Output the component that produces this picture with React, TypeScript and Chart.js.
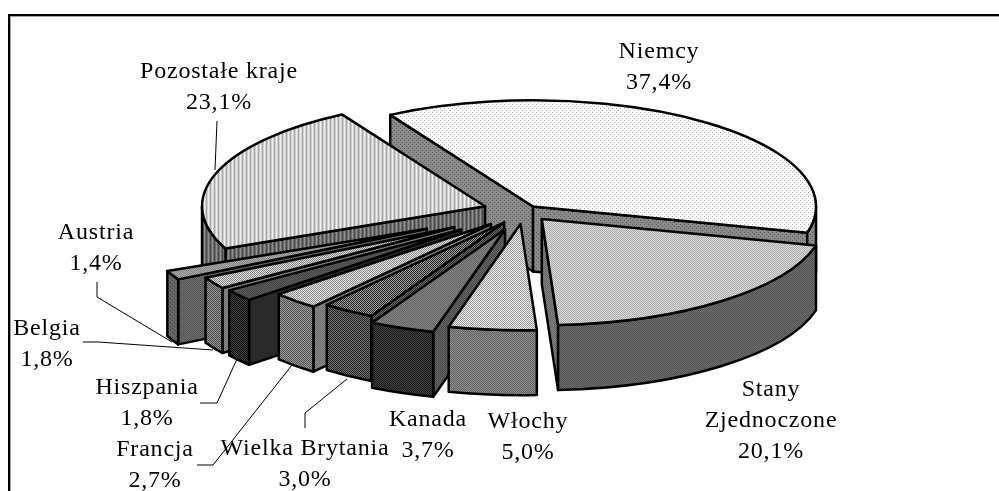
import React, { useEffect, useRef } from "react";
import { Chart, registerables } from "chart.js";

Chart.register(...registerables);

const categories = ["Niemcy", "Stany Zjednoczone", "Włochy", "Kanada", "Wielka Brytania", "Francja", "Hiszpania", "Belgia", "Austria", "Pozostałe kraje"];
const shares = [37.4, 20.1, 5.0, 3.7, 3.0, 2.7, 1.8, 1.8, 1.4, 23.1];
const explode = [15, 28, 35, 52, 36, 48, 80, 82, 108, 41];

type Pat = [string, string, string];
const topFaces: Pat[] = [
  ["dots", "#ffffff", "#b4b4b4"], ["check", "#dadada", "#acacac"], ["check", "#eeeeee", "#999999"],
  ["check", "#848484", "#646464"], ["check", "#a0a0a0", "#222222"], ["check", "#e4e4e4", "#8c8c8c"],
  ["check", "#5c5c5c", "#444444"], ["check", "#e0e0e0", "#808080"], ["check", "#aaaaaa", "#848484"],
  ["stripesLight", "#f0f0f0", "#a8a8a8"],
];
const outerWalls: Pat[] = [
  ["dots", "#8a8a8a", "#5c5c5c"], ["check", "#6c6c6c", "#545454"], ["check", "#8c8c8c", "#646464"],
  ["check", "#404040", "#1c1c1c"], ["check", "#6c6c6c", "#282828"], ["check", "#969696", "#585858"],
  ["check", "#444444", "#0c0c0c"], ["check", "#969696", "#4c4c4c"], ["dots", "#666666", "#444444"],
  ["stripesDark", "#909090", "#484848"],
];
const cutWalls: Pat[] = [
  ["dots", "#8a8a8a", "#5c5c5c"], ["check", "#808080", "#686868"], ["check", "#8c8c8c", "#646464"],
  ["check", "#666666", "#484848"], ["check", "#6c6c6c", "#282828"], ["check", "#888888", "#707070"],
  ["check", "#303030", "#242424"], ["check", "#888888", "#707070"], ["check", "#6a6a6a", "#585858"],
  ["stripesDark", "#909090", "#484848"],
];

const labelLines: string[][] = [
  ["Niemcy", "37,4%"], ["Stany", "Zjednoczone", "20,1%"], ["Włochy", "5,0%"], ["Kanada", "3,7%"],
  ["Wielka Brytania", "3,0%"], ["Francja", "2,7%"], ["Hiszpania", "1,8%"], ["Belgia", "1,8%"],
  ["Austria", "1,4%"], ["Pozostałe kraje", "23,1%"],
];
const labelAnchors = [
  [659, 52], [771, 390], [528, 422], [428, 420], [305, 449], [155, 450], [147, 388], [47, 329], [96, 233], [219, 72],
];
const leaders: number[][][] = [
  [], [], [], [],
  [[305, 428], [305, 413], [347, 379]],
  [[197, 465], [213, 465], [292, 365]],
  [[200, 403], [217, 403], [237, 359]],
  [[83, 342], [98, 342], [213, 350]],
  [[97, 282], [97, 297], [172, 342]],
  [[217, 121], [215, 170]],
];

const TILT = 0.375;
const DEPTH = 65;
const LINE_HEIGHT = 31;

function makePattern(ctx: CanvasRenderingContext2D, [kind, a, b]: Pat) {
  const c = document.createElement("canvas");
  const p = c.getContext("2d")!;
  if (kind === "dots") {
    c.width = 4; c.height = 4;
    p.fillStyle = a; p.fillRect(0, 0, 4, 4);
    p.fillStyle = b; p.fillRect(0, 0, 1, 1); p.fillRect(2, 2, 1, 1);
  } else if (kind === "check") {
    c.width = 2; c.height = 2;
    p.fillStyle = a; p.fillRect(0, 0, 2, 2);
    p.fillStyle = b; p.fillRect(0, 0, 1, 1); p.fillRect(1, 1, 1, 1);
  } else {
    c.width = 4; c.height = 1;
    const mid = kind === "stripesLight" ? "#d0d0d0" : "#6c6c6c";
    [a, mid, b, mid].forEach((col, i) => { p.fillStyle = col; p.fillRect(i, 0, 1, 1); });
  }
  return ctx.createPattern(c, "repeat")!;
}

const pie3d = {
  id: "pie3d",
  beforeDraw(chart: any) {
    const ctx = chart.ctx as CanvasRenderingContext2D;
    ctx.save();
    ctx.fillStyle = "#a0a0a0";
    ctx.fillRect(8, 16, 991, 1);
    ctx.fillRect(10, 14, 1, 477);
    ctx.fillStyle = "#000000";
    ctx.fillRect(8, 14, 991, 2);
    ctx.fillRect(8, 14, 2, 477);
    ctx.restore();
  },
  beforeDatasetsDraw(chart: any) {
    const ctx = chart.ctx as CanvasRenderingContext2D;
    const arcs = chart.getDatasetMeta(0).data as any[];
    const order = arcs
      .map((arc, i) => ({ i, s: Math.sin((arc.startAngle + arc.endAngle) / 2) }))
      .sort((p, q) => p.s - q.s);
    ctx.save();
    ctx.lineWidth = 2.5;
    ctx.lineJoin = "round";
    ctx.strokeStyle = "#000000";
    const paint = (fill: CanvasPattern | string | null) => {
      if (fill) { ctx.fillStyle = fill; ctx.fill(); }
      ctx.stroke();
    };
    order.forEach(({ i }) => {
      const arc = arcs[i];
      const a = arc.startAngle, b = arc.endAngle, r = arc.outerRadius, m = (a + b) / 2;
      const off = arc.options.offset;
      const cx = arc.x + Math.cos(m) * off;
      const cy = arc.y + Math.sin(m) * off * TILT;
      const ry = r * TILT;
      const px = (t: number) => cx + Math.cos(t) * r;
      const py = (t: number) => cy + Math.sin(t) * ry;
      const cut = (t: number) => {
        ctx.beginPath();
        ctx.moveTo(cx, cy);
        ctx.lineTo(px(t), py(t));
        ctx.lineTo(px(t), py(t) + DEPTH);
        ctx.lineTo(cx, cy + DEPTH);
        ctx.closePath();
        paint(makePattern(ctx, cutWalls[i]));
      };
      if (Math.cos(a) < 0) cut(a);
      if (Math.cos(b) > 0) cut(b);
      // outer wall: only the part facing the viewer
      for (const k of [0, 2]) {
        const lo = Math.max(a, k * Math.PI);
        const hi = Math.min(b, (k + 1) * Math.PI);
        if (hi <= lo) continue;
        ctx.beginPath();
        ctx.ellipse(cx, cy, r, ry, 0, lo, hi);
        ctx.lineTo(px(hi), py(hi) + DEPTH);
        ctx.ellipse(cx, cy + DEPTH, r, ry, 0, hi, lo, true);
        ctx.closePath();
        paint(makePattern(ctx, outerWalls[i]));
      }
      ctx.beginPath();
      ctx.moveTo(cx, cy);
      ctx.ellipse(cx, cy, r, ry, 0, a, b);
      ctx.closePath();
      paint(arc.options.backgroundColor);
    });
    ctx.restore();
    return false;
  },
  afterDraw(chart: any) {
    const ctx = chart.ctx as CanvasRenderingContext2D;
    ctx.save();
    ctx.strokeStyle = "#000000";
    ctx.lineWidth = 1;
    leaders.forEach((pts) => {
      if (!pts.length) return;
      ctx.beginPath();
      pts.forEach(([x, y], j) => (j ? ctx.lineTo(x, y) : ctx.moveTo(x, y)));
      ctx.stroke();
    });
    ctx.fillStyle = "#000000";
    ctx.font = '24px "Liberation Serif"';
    (ctx as any).letterSpacing = "0.8px";
    ctx.textAlign = "center";
    ctx.textBaseline = "middle";
    labelLines.forEach((lines, i) => {
      lines.forEach((t, j) => ctx.fillText(t, labelAnchors[i][0], labelAnchors[i][1] + j * LINE_HEIGHT));
    });
    ctx.restore();
  },
};

export default function App() {
  const ref = useRef<HTMLCanvasElement>(null);
  useEffect(() => {
    const canvas = ref.current!;
    const ctx = canvas.getContext("2d")!;
    const chart = new Chart(canvas, {
      type: "pie",
      data: {
        labels: categories,
        datasets: [{
          data: shares,
          offset: explode,
          borderWidth: 0,
          backgroundColor: topFaces.map((p) => makePattern(ctx, p)),
        }],
      },
      options: {
        animation: false,
        responsive: false,
        rotation: -30.3,
        radius: 283,
        layout: { padding: { left: 49, right: 0, top: 0, bottom: 69 } },
        plugins: { legend: { display: false }, tooltip: { enabled: false } },
      },
      plugins: [pie3d],
    } as any);
    return () => chart.destroy();
  }, []);
  return (
    <canvas
      ref={ref}
      width={999}
      height={491}
      style={{ position: "absolute", left: 0, top: 0, width: 999, height: 491, background: "#ffffff" }}
    />
  );
}
